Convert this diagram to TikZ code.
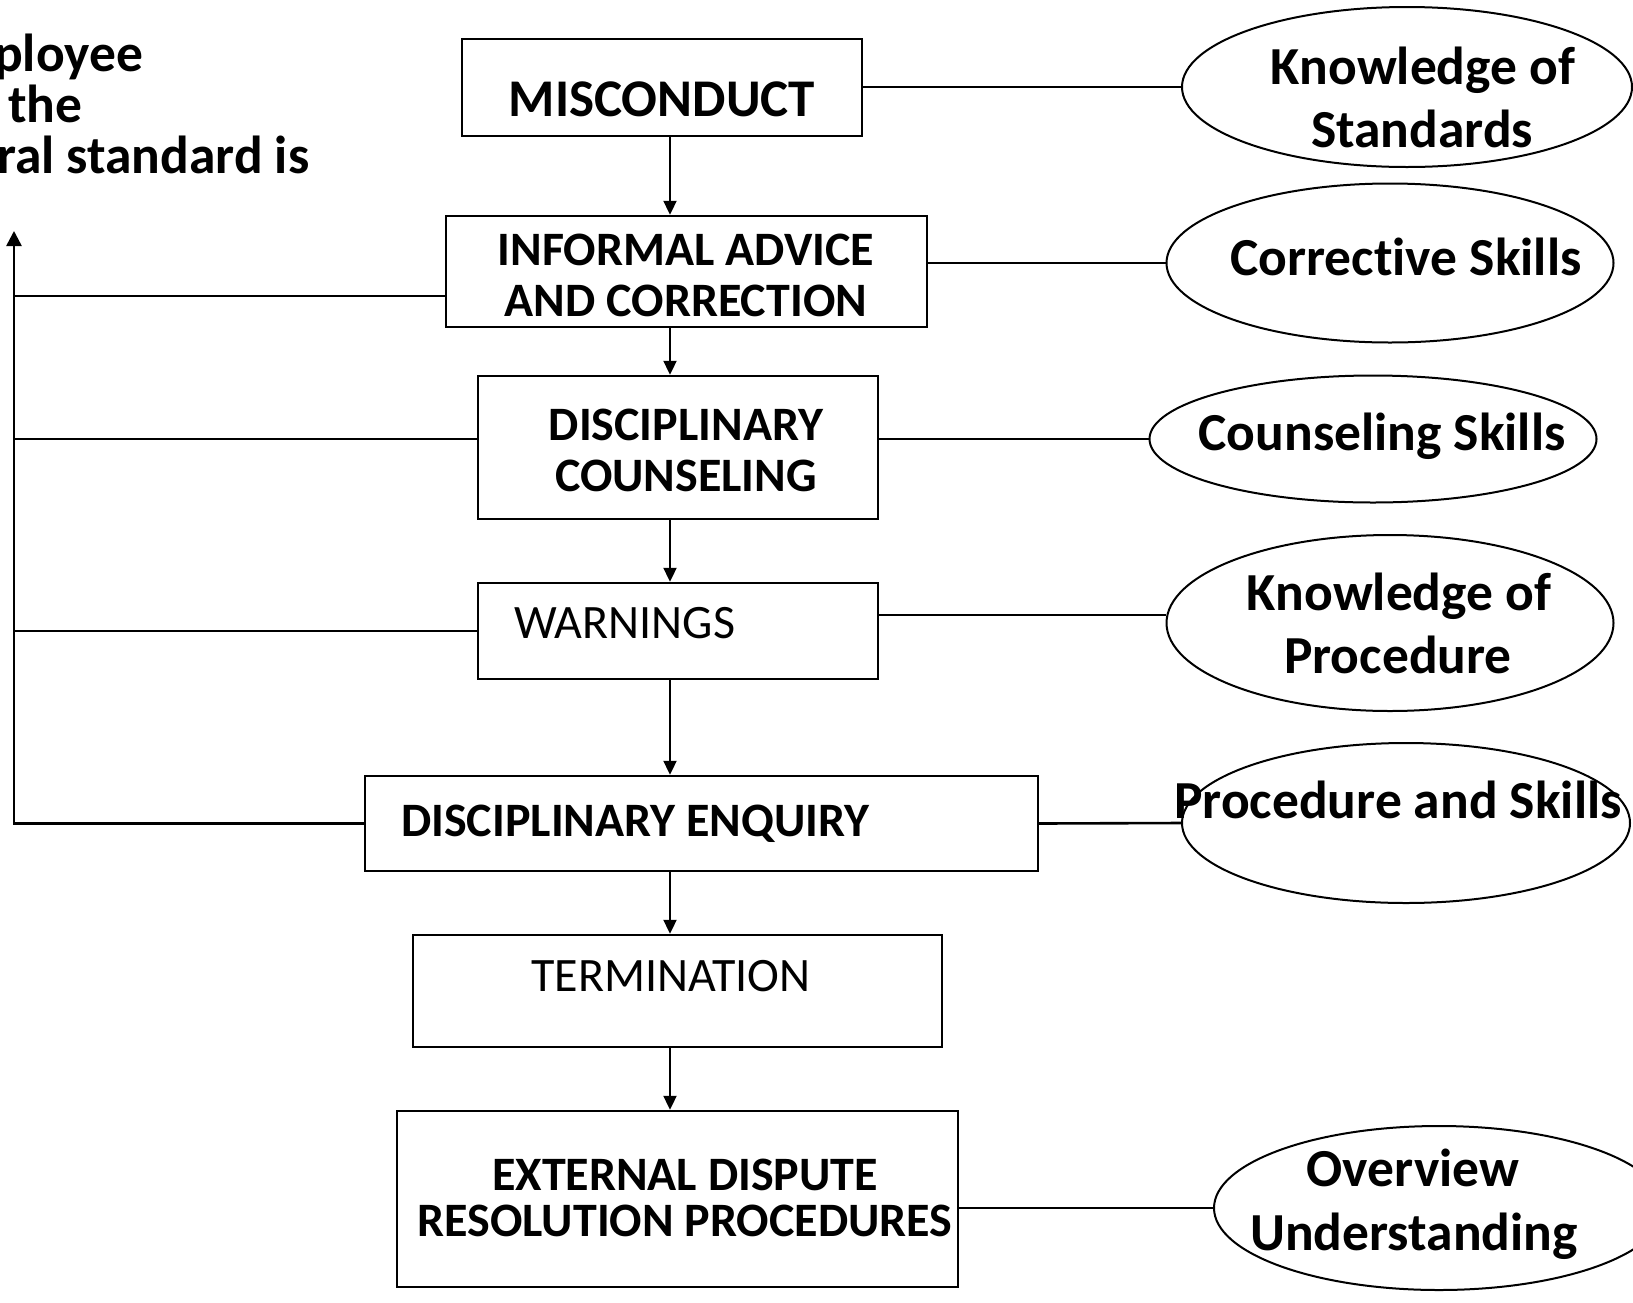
\documentclass[tikz,border=0pt]{standalone}
\usepackage{fontspec}
\setmainfont{Carlito}[Ligatures=NoCommon]
\usetikzlibrary{shapes.geometric,arrows.meta}

\tikzset{
  stage/.style={draw, rectangle, line width=2.4pt, inner sep=0pt},
  skill/.style={draw, ellipse, line width=2pt, inner sep=0pt},
  link/.style={line width=2.6pt},
  flow/.style={line width=2pt, -{Triangle[length=14pt,width=13pt]}},
  boxtxt/.style={anchor=base, inner sep=0pt, font=\bfseries\fontsize{48}{57}\selectfont},
  plaintxt/.style={anchor=base, inner sep=0pt, font=\fontsize{48}{57}\selectfont},
  skilltxt/.style={anchor=base, inner sep=0pt, font=\bfseries\fontsize{53.5}{64}\selectfont},
}

\begin{document}
\begin{tikzpicture}[x=1pt, y=-1pt]
  % page frame
  \fill[white] (0,0) rectangle (1633,1302);
  \useasboundingbox (0,0) rectangle (1633,1302);

  % main procedure boxes
  \node[stage, minimum width=400pt, minimum height=97pt]  (b1) at (662,87.5)   {};
  \node[stage, minimum width=481pt, minimum height=111pt] (b2) at (686.5,271.5) {};
  \node[stage, minimum width=400pt, minimum height=143pt] (b3) at (678,447.5)  {};
  \node[stage, minimum width=400pt, minimum height=96pt]  (b4) at (678,631)    {};
  \node[stage, minimum width=673pt, minimum height=95pt]  (b5) at (701.5,823.5) {};
  \node[stage, minimum width=529pt, minimum height=112pt] (b6) at (677.5,991)  {};
  \node[stage, minimum width=561pt, minimum height=176pt] (b7) at (677.5,1199) {};

  % box captions
  \node[boxtxt, font=\bfseries\fontsize{53}{63}\selectfont] (t1) at (662,116) {MISCONDUCT};
  \node[boxtxt] (t2a) at (686,265) {INFORMAL ADVICE};
  \node[boxtxt] (t2b) at (686,316) {AND CORRECTION};
  \node[boxtxt] (t3a) at (686,440) {DISCIPLINARY};
  \node[boxtxt] (t3b) at (686,491) {COUNSELING};
  \node[plaintxt, anchor=base west] (t4) at (514,638) {WARNINGS};
  \node[boxtxt, anchor=base west] (t5) at (401,836) {DISCIPLINARY ENQUIRY};
  \node[plaintxt] (t6) at (671,991) {TERMINATION};
  \node[boxtxt] (t7a) at (685,1190) {EXTERNAL DISPUTE};
  \node[boxtxt] (t7b) at (685,1236) {RESOLUTION PROCEDURES};

  % required skills
  \node[skill, minimum width=450pt, minimum height=160pt] (e1) at (1407,87)   {};
  \node[skill, minimum width=447pt, minimum height=159pt] (e2) at (1390,263)  {};
  \node[skill, minimum width=447pt, minimum height=127pt] (e3) at (1373,439)  {};
  \node[skill, minimum width=447pt, minimum height=176pt] (e4) at (1390,623)  {};
  \node[skill, minimum width=448pt, minimum height=160pt] (e5) at (1406,823)  {};
  \node[skill, minimum width=450pt, minimum height=164pt] (e6) at (1439,1208) {};

  \node[skilltxt] (s1a) at (1423,84)   {Knowledge of};
  \node[skilltxt] (s1b) at (1422,147)  {Standards};
  \node[skilltxt] (s2)  at (1406,275)  {Corrective Skills};
  \node[skilltxt] (s3)  at (1382,450)  {Counseling Skills};
  \node[skilltxt] (s4a) at (1399,610)  {Knowledge of};
  \node[skilltxt] (s4b) at (1398,673)  {Procedure};
  \node[skilltxt] (s5)  at (1398,818)  {Procedure and Skills};
  \node[skilltxt] (s6a) at (1413,1186) {Overview};
  \node[skilltxt] (s6b) at (1414,1250) {Understanding};

  % note on the left margin
  \node[skilltxt, anchor=base west] (n1) at (-6,71)  {ployee};
  \node[skilltxt, anchor=base west] (n2) at (8,122)  {the};
  \node[skilltxt, anchor=base west] (n3) at (-3,173) {ral standard is};

  % downward flow
  \coordinate (axis) at (670,0);
  \draw[flow] (b1.south -| axis) -- (b2.north -| axis);
  \draw[flow] (b2.south -| axis) -- (b3.north -| axis);
  \draw[flow] (b3.south -| axis) -- (b4.north -| axis);
  \draw[flow] (b4.south -| axis) -- (b5.north -| axis);
  \draw[flow] (b5.south -| axis) -- (b6.north -| axis);
  \draw[flow] (b6.south -| axis) -- (b7.north -| axis);

  % links to skills
  \draw[link] (b1.east |- e1.west) -- (e1.west);
  \draw[link] (b2.east |- e2.west) -- (e2.west);
  \draw[link] (b3.east |- e3.west) -- (e3.west);
  \draw[link] (b4.east |- 0,615) -- (e4.west |- 0,615);
  \draw[link] (b5.east) -- (e5.west);
  \draw[link] (b7.east |- e6.west) -- (e6.west);

  % return path on the left
  \coordinate (top) at (14,231);
  \draw[link, -{Triangle[length=15pt,width=15pt]}] (b5.west) -| (top);
  \draw[link] (b2.west |- 0,296) -- (top |- 0,296);
  \draw[link] (b3.west |- 0,439) -- (top |- 0,439);
  \draw[link] (b4.west |- 0,631) -- (top |- 0,631);
\end{tikzpicture}
\end{document}
